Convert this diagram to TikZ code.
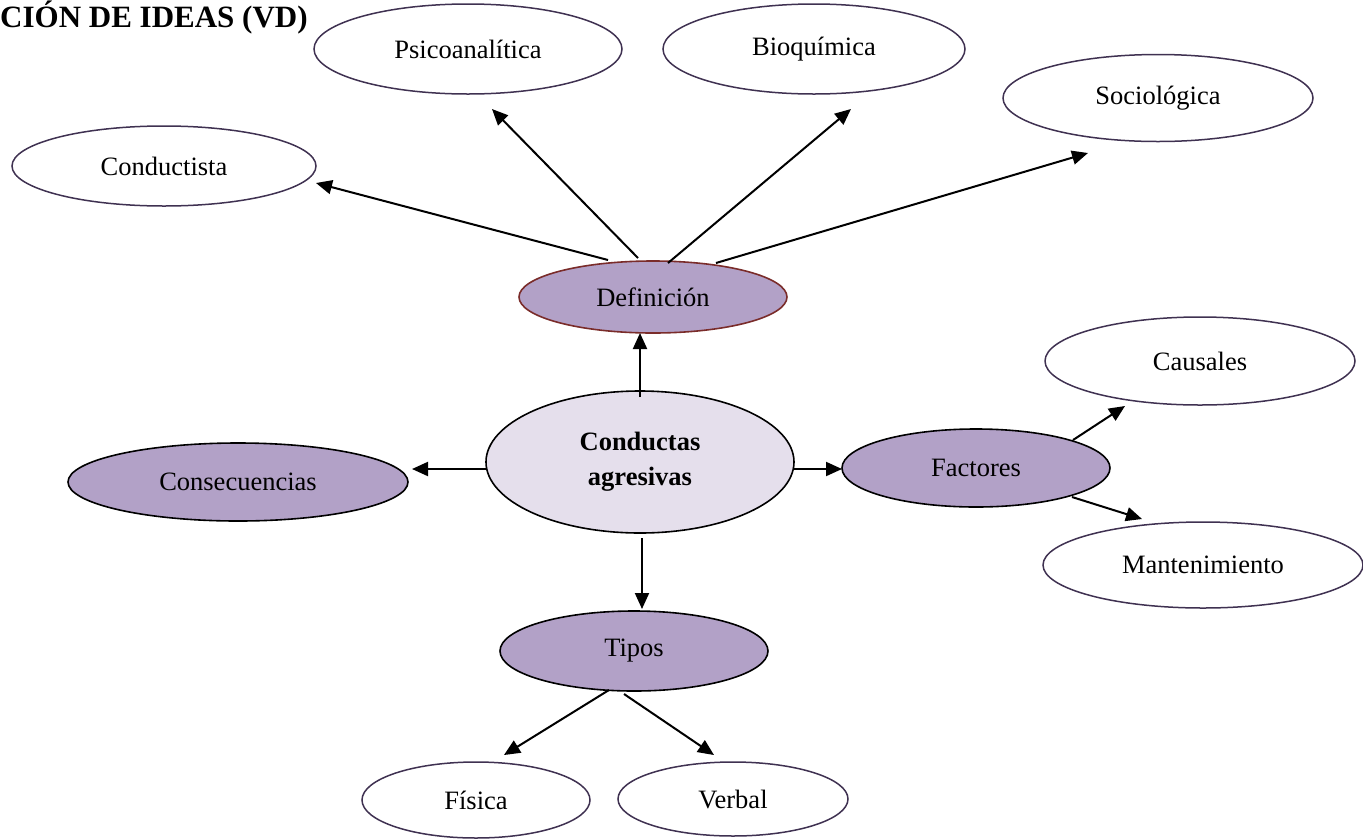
\documentclass[tikz,border=0pt]{standalone}
\usepackage{fontspec}
\setmainfont{Liberation Serif}
\usetikzlibrary{shapes.geometric,arrows.meta,calc}

\definecolor{lilac}{HTML}{B2A1C7}
\definecolor{palelilac}{HTML}{E5DFEC}
\definecolor{plumline}{HTML}{3F3151}
\definecolor{wineline}{HTML}{7A2C2A}

\tikzset{
  bubble/.style={ellipse, inner sep=0pt, font=\fontsize{26.5}{32}\selectfont},
  leaf/.style={bubble, draw=plumline, line width=1.5pt, fill=white},
  branch/.style={bubble, draw=black, line width=1.6pt, fill=lilac},
  hub/.style={bubble, draw=black, line width=1.6pt, fill=palelilac,
    align=center, font=\fontsize{26.5}{35}\selectfont\bfseries},
  link/.style={line width=2pt, -{Triangle[length=16pt,width=14pt]}},
}

\begin{document}
\begin{tikzpicture}[x=1pt, y=-1pt]
  \useasboundingbox (0,0) rectangle (1363,839);

  % heading
  \node[anchor=base west, inner sep=0pt, font=\fontsize{31}{36}\selectfont\bfseries]
    (title) at (0,27) {CIÓN DE IDEAS (VD)};

  % central concept
  \node[hub, minimum width=308pt, minimum height=142pt] (cond) at (640,462)
    {Conductas\\agresivas};

  % second level
  \node[branch, draw=wineline, minimum width=268pt, minimum height=72pt] (def) at (653,297) {Definición};
  \node[branch, minimum width=340pt, minimum height=78pt] (cons) at (238,482) {Consecuencias};
  \node[branch, minimum width=268pt, minimum height=78pt] (fact) at (976,468) {Factores};
  \node[branch, minimum width=268pt, minimum height=80pt] (tipos) at (634,651) {Tipos};

  % theories of the definition
  \node[leaf, minimum width=304pt, minimum height=80pt] (condu) at (164,166) {Conductista};
  \node[leaf, minimum width=308pt, minimum height=90pt] (psico) at (468,49) {Psicoanalítica};
  \node[leaf, minimum width=302pt, minimum height=90pt] (bioq) at (814,49) {Bioquímica};
  \node[leaf, minimum width=310pt, minimum height=87pt] (socio) at (1158,98) {Sociológica};

  % factor kinds
  \node[leaf, minimum width=310pt, minimum height=88pt] (caus) at (1200,361) {Causales};
  \node[leaf, minimum width=320pt, minimum height=86pt] (mant) at (1203,565) {Mantenimiento};

  % types
  \node[leaf, minimum width=228pt, minimum height=76pt] (fis) at (476,800) {Física};
  \node[leaf, minimum width=230pt, minimum height=74pt] (verb) at (733,799) {Verbal};

  % connectors from the centre
  \draw[link] ($(cond)+(0,-65)$) -- ($(def)+(-13,36)$);
  \draw[link] ($(cond)+(-154,7)$) -- ($(cons)+(174,-13)$);
  \draw[link] ($(cond)+(154,7)$) -- ($(fact)+(-134,1)$);
  \draw[link] ($(cond)+(2,76)$) -- ($(tipos)+(8,-42)$);

  % connectors from the definition
  \draw[link] ($(def)+(-45,-37)$) -- ($(condu)+(152,17)$);
  \draw[link] ($(def)+(-15,-39)$) -- ($(psico)+(24,60)$);
  \draw[link] ($(def)+(15,-34)$) -- ($(bioq)+(37,60)$);
  \draw[link] ($(def)+(63,-34)$) -- ($(socio)+(-70,55)$);

  % connectors from the factors
  \draw[link] ($(fact)+(97,-28)$) -- ($(caus)+(-75,45)$);
  \draw[link] ($(fact)+(96,29)$) -- ($(mant)+(-61,-46)$);

  % connectors from the types
  \draw[link] ($(tipos)+(-25,39)$) -- ($(fis)+(28,-45)$);
  \draw[link] ($(tipos)+(-10,43)$) -- ($(verb)+(-19,-44)$);
\end{tikzpicture}
\end{document}
